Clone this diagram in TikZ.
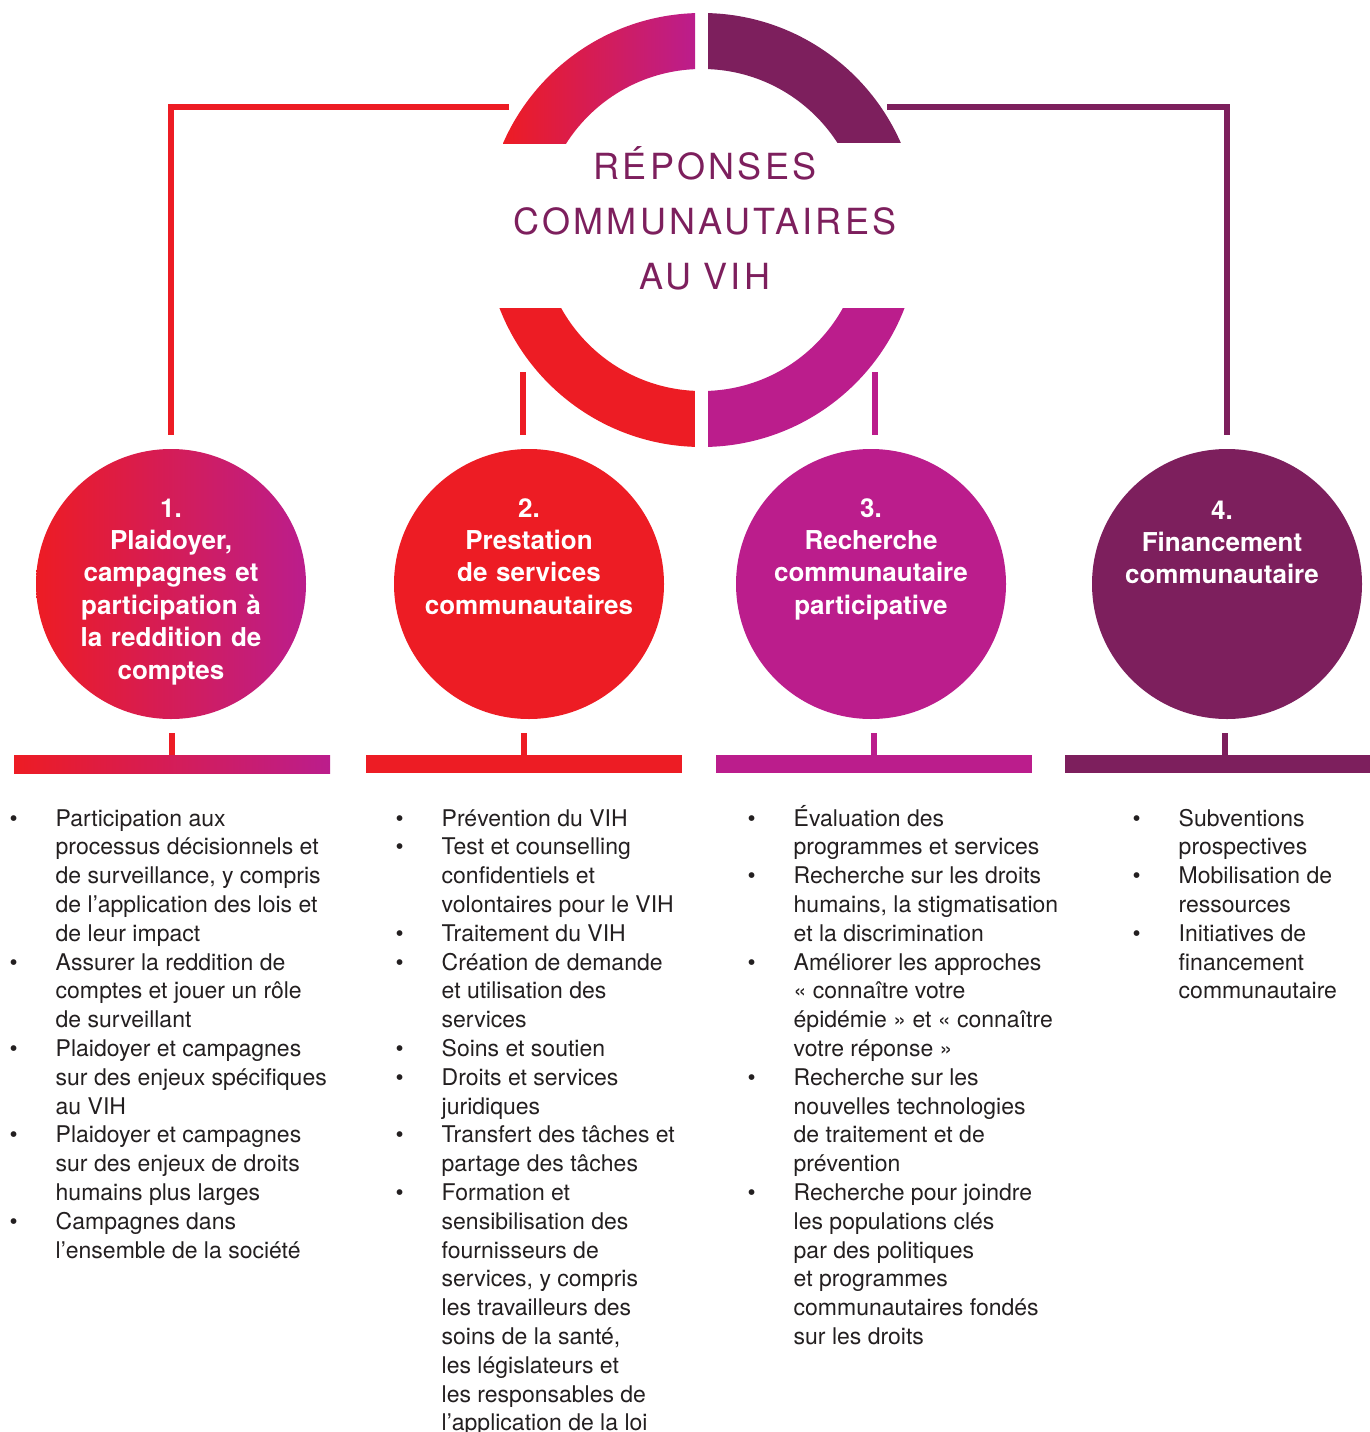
\documentclass[tikz,border=0pt]{standalone}
\usepackage{fontspec}
\setmainfont{TeX Gyre Heros}
\usetikzlibrary{calc}
\definecolor{vihred}{HTML}{ED1C24}
\definecolor{vihmag}{HTML}{BB1D8C}
\definecolor{vihpurple}{HTML}{7D1F5D}
\definecolor{vihtext}{HTML}{231F20}

\begin{document}
\begin{tikzpicture}[x=1pt,y=-1pt,every node/.style={inner sep=0pt},
      link/.style={line width=6pt},
      theme/.style={circle,minimum size=270pt},
      head/.style={text=white,font=\bfseries\fontsize{26}{32.4}\selectfont,
        text width=260pt,align=center,anchor=base},
      title/.style={text=vihpurple,font=\fontsize{36}{55}\selectfont\addfontfeature{LetterSpace=9},
        text width=440pt,align=center,anchor=base},
      bar/.style={minimum width=316pt,minimum height=18pt,anchor=north},
      items/.style={anchor=base west,text=vihtext,font=\fontsize{23}{28.8}\selectfont}]
  \useasboundingbox (0,0) rectangle (1369,1432);
  \coordinate (hub) at (702,230);
  % ring in four quarters
  \begin{scope}[even odd rule]
    \clip (hub) circle[radius=217] (hub) circle[radius=161];
    \shade[left color=vihred,right color=vihmag] (503,0) rectangle (695,143);
    \fill[vihpurple] (708,0) rectangle (925,143);
    \fill[vihred] (480,308) rectangle (695,450);
    \fill[vihmag] (708,308) rectangle (925,450);
  \end{scope}
  \node[title] (ttl) at (705,179) {RÉPONSES\\COMMUNAUTAIRES\\AU VIH};

  \node[theme,left color=vihred,right color=vihmag] (c1) at (171,584) {};
  \node[theme,fill=vihred] (c2) at (529,584) {};
  \node[theme,fill=vihmag] (c3) at (871,584) {};
  \node[theme,fill=vihpurple] (c4) at (1227,584) {};
  \node[head] (h1) at (c1 |- 0,517) {1.\\Plaidoyer,\\campagnes et\\participation à\\la reddition de\\comptes};
  \node[head] (h2) at (c2 |- 0,517) {2.\\Prestation\\de services\\communautaires};
  \node[head] (h3) at (c3 |- 0,517) {3.\\Recherche\\communautaire\\participative};
  \node[head] (h4) at (1222,519) {4.\\Financement\\communautaire};

  \coordinate (l1) at (509,107);
  \coordinate (l4) at (887,107);
  \coordinate (s2) at (523,372);
  \coordinate (s3) at (875,372);
  \draw[link,vihred,shorten >=14pt] (l1) -| (c1.north);
  \draw[link,vihpurple,shorten >=14pt] (l4) -| (c4.north);
  \draw[link,vihred,shorten >=14pt] (s2) -- (s2 |- c2.north);
  \draw[link,vihmag,shorten >=14pt] (s3) -- (s3 |- c3.north);

  \node[bar,left color=vihred,right color=vihmag] (b1) at (172,755) {};
  \node[bar,fill=vihred] (b2) at (523.5,755) {};
  \node[bar,fill=vihmag] (b3) at (874,755) {};
  \node[bar,fill=vihpurple,minimum width=320pt] (b4) at (1225,755) {};
  \draw[link,vihred,shorten <=14pt] (b1.north |- c1.south) -- (b1.north);
  \draw[link,vihred,shorten <=14pt] (b2.north |- c2.south) -- (b2.north);
  \draw[link,vihmag,shorten <=14pt] (b3.north |- c3.south) -- (b3.north);
  \draw[link,vihpurple,shorten <=14pt] (b4.north |- c4.south) -- (b4.north);

  \node[items] (i1) at (9.5,826) {\begin{tabular}[t]{@{}p{46pt}@{}l@{}}
    • & Participation aux\\ & processus décisionnels et\\ & de surveillance, y compris\\
      & de l’application des lois et\\ & de leur impact\\
    • & Assurer la reddition de\\ & comptes et jouer un rôle\\ & de surveillant\\
    • & Plaidoyer et campagnes\\ & sur des enjeux spécifiques\\ & au VIH\\
    • & Plaidoyer et campagnes\\ & sur des enjeux de droits\\ & humains plus larges\\
    • & Campagnes dans\\ & l’ensemble de la société
  \end{tabular}};
  \node[items] (i2) at (395.5,826) {\begin{tabular}[t]{@{}p{46pt}@{}l@{}}
    • & Prévention du VIH\\
    • & Test et counselling\\ & confidentiels et\\ & volontaires pour le VIH\\
    • & Traitement du VIH\\
    • & Création de demande\\ & et utilisation des\\ & services\\
    • & Soins et soutien\\
    • & Droits et services\\ & juridiques\\
    • & Transfert des tâches et\\ & partage des tâches\\
    • & Formation et\\ & sensibilisation des\\ & fournisseurs de\\ & services, y compris\\
      & les travailleurs des\\ & soins de la santé,\\ & les législateurs et\\
      & les responsables de\\ & l’application de la loi
  \end{tabular}};
  \node[items] (i3) at (747.5,826) {\begin{tabular}[t]{@{}p{46pt}@{}l@{}}
    • & Évaluation des\\ & programmes et services\\
    • & Recherche sur les droits\\ & humains, la stigmatisation\\ & et la discrimination\\
    • & Améliorer les approches\\ & «~connaître votre\\ & épidémie~» et «~connaître\\ & votre réponse~»\\
    • & Recherche sur les\\ & nouvelles technologies\\ & de traitement et de\\ & prévention\\
    • & Recherche pour joindre\\ & les populations clés\\ & par des politiques\\
      & et programmes\\ & communautaires fondés\\ & sur les droits
  \end{tabular}};
  \node[items] (i4) at (1132.5,826) {\begin{tabular}[t]{@{}p{46pt}@{}l@{}}
    • & Subventions\\ & prospectives\\
    • & Mobilisation de\\ & ressources\\
    • & Initiatives de\\ & financement\\ & communautaire
  \end{tabular}};
\end{tikzpicture}
\end{document}
